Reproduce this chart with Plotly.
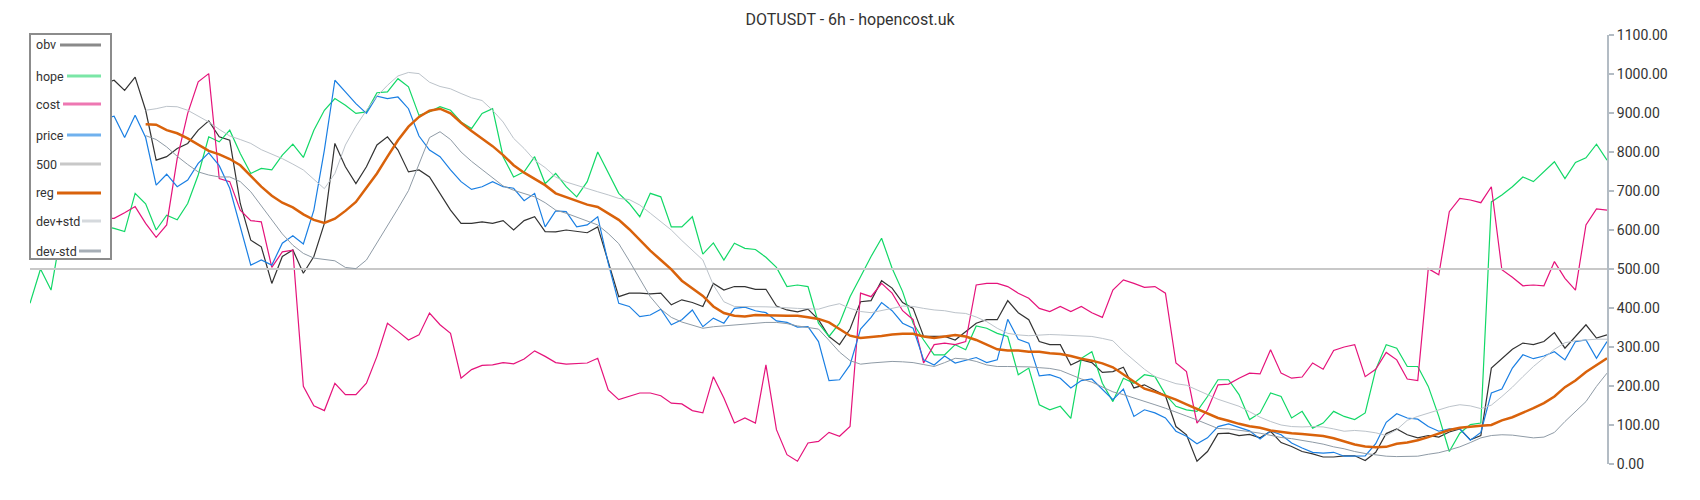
import plotly.graph_objects as go

# ---------------- data ----------------
chart_title = "DOTUSDT - 6h - hopencost.uk"
n_points = 151          # candles shown (index 0 .. 150)
band_start = 11         # first index of reg / dev bands

obv = [940, 960, 925, 950, 990, 970, 1000, 975,
       984, 958, 992, 907, 779, 788, 809, 822, 856, 880, 839, 830, 668, 574, 557, 463, 532, 549,
       489, 532, 617, 822, 762, 719, 762, 818, 839, 805, 749, 754, 736, 694, 651, 617, 617, 621, 617, 624, 600, 624, 634, 596, 595,
       600, 596, 593, 608, 519, 429, 438, 438, 436, 438, 408, 421, 414, 404, 463, 446, 455, 455, 448, 448, 405, 395, 390, 397, 370,
       327, 306, 346, 416, 419, 470, 451, 414, 399, 327, 327, 327, 318, 340, 361, 370, 370, 419, 388, 370, 314, 306, 306, 254, 267,
       260, 235, 237, 248, 195, 203, 189, 175, 96, 75, 7, 32, 78, 79, 73, 76, 67, 84, 55, 45, 32, 26, 18, 18, 21,
       21, 9, 30, 78, 90, 75, 67, 73, 69, 82, 90, 62, 73, 246, 271, 294, 310, 306, 314, 337, 297, 327, 357, 323, 331]

hope = [412, 500, 446, 600, 585, 620, 640, 610,
        604, 596, 694, 667, 600, 638, 626, 668, 741, 839, 826, 856, 796, 745, 758, 754, 792, 820,
        786, 856, 907, 937, 920, 899, 903, 952, 954, 988, 967, 894, 903, 916, 907, 877, 860, 899, 911, 788, 736, 749, 788, 719, 745,
        711, 685, 724, 800, 745, 694, 668, 634, 694, 685, 608, 608, 634, 538, 567, 523, 566, 553, 550, 530, 504, 455, 459, 455, 361,
        327, 361, 429, 480, 532, 579, 502, 442, 361, 318, 280, 280, 306, 293, 354, 348, 335, 327, 229, 246, 152, 139, 148, 117, 271,
        288, 207, 160, 220, 207, 229, 224, 178, 148, 139, 135, 173, 216, 216, 178, 114, 131, 182, 173, 118, 135, 92, 105, 135, 122,
        114, 131, 242, 306, 297, 250, 250, 199, 122, 32, 79, 101, 105, 672, 690, 711, 736, 724, 749, 775, 732, 773, 785, 820, 779]

cost = [600, 620, 640, 655, 640, 615, 625, 630,
        630, 644, 660, 617, 581, 613, 783, 899, 980, 1001, 732, 724, 651, 624, 621, 504, 544, 548,
        199, 149, 137, 207, 178, 178, 207, 276, 361, 340, 318, 331, 387, 357, 335, 220, 242, 253, 254, 260, 257, 269, 290, 276, 260,
        256, 257, 259, 271, 190, 165, 173, 182, 182, 175, 156, 154, 137, 131, 224, 169, 105, 118, 105, 254, 88, 24, 7, 54, 58,
        81, 71, 96, 438, 429, 463, 438, 393, 370, 259, 306, 310, 306, 314, 459, 463, 463, 455, 438, 425, 399, 391, 404, 391, 404,
        388, 376, 446, 472, 463, 453, 455, 438, 259, 237, 105, 139, 203, 205, 220, 233, 231, 293, 233, 220, 223, 259, 243, 291, 300,
        306, 224, 243, 286, 267, 218, 214, 501, 485, 647, 681, 677, 670, 711, 498, 479, 457, 459, 457, 519, 476, 446, 613, 654, 651]

price = [860, 880, 850, 870, 900, 880, 860, 885,
         892, 837, 894, 837, 715, 743, 711, 728, 771, 798, 765, 707, 608, 510, 523, 510, 566, 585,
         564, 651, 805, 984, 954, 924, 899, 943, 937, 941, 911, 841, 805, 788, 754, 724, 704, 711, 724, 711, 707, 675, 694, 608, 649,
         647, 608, 613, 634, 515, 412, 404, 378, 382, 397, 357, 370, 395, 352, 374, 361, 399, 402, 393, 388, 367, 363, 351, 352, 314,
         214, 216, 254, 346, 376, 414, 393, 361, 348, 267, 254, 277, 259, 267, 273, 260, 267, 371, 320, 310, 226, 229, 220, 195, 214,
         218, 192, 165, 192, 122, 139, 131, 118, 84, 71, 52, 67, 96, 103, 94, 85, 64, 85, 75, 54, 41, 30, 28, 30, 20,
         20, 21, 52, 107, 129, 118, 115, 96, 84, 90, 90, 61, 81, 182, 192, 246, 280, 270, 277, 288, 267, 314, 318, 271, 314]

reg = [871, 870, 856, 848, 835, 818, 803, 794, 782, 766, 738, 711, 688, 670, 658,
       640, 626, 618, 629, 649, 672, 708, 745, 788, 830, 865, 890, 906, 911, 899, 875, 854, 835, 815, 792, 766, 747, 731, 715, 694,
       684, 675, 665, 659, 643, 626, 602, 574, 547, 523, 499, 470, 451, 431, 404, 387, 380, 378, 382, 382, 381, 380, 380, 376, 372,
       363, 346, 329, 323, 325, 328, 332, 334, 334, 327, 323, 327, 331, 327, 318, 306, 294, 291, 291, 288, 288, 284, 282, 277, 270,
       265, 258, 248, 229, 212, 193, 185, 176, 165, 153, 141, 128, 118, 111, 103, 97, 93, 86, 82, 79, 77, 75, 72, 66, 58,
       50, 45, 43, 44, 52, 55, 61, 69, 79, 87, 93, 96, 98, 100, 112, 120, 131, 143, 156, 173, 197, 214, 236, 254, 271]

dev_plus_std = [907, 911, 917, 916, 907, 893, 877, 858, 841, 832, 822, 806, 795, 783, 769,
                754, 730, 706, 745, 818, 866, 907, 943, 971, 995, 1004, 1001, 979, 968, 962, 950, 939, 932, 907, 877, 835, 809, 779, 760, 736,
                723, 714, 707, 698, 690, 681, 678, 664, 643, 621, 600, 573, 549, 523, 459, 416, 404, 404, 404, 403, 402, 400, 399, 398, 397,
                405, 411, 399, 391, 388, 393, 399, 405, 404, 399, 395, 393, 388, 386, 377, 365, 348, 335, 331, 329, 330, 332, 331, 330, 329,
                327, 322, 316, 289, 265, 243, 224, 214, 206, 202, 189, 178, 166, 156, 148, 134, 120, 109, 100, 96, 95, 96, 95, 90, 84,
                86, 84, 80, 73, 88, 112, 122, 131, 139, 147, 152, 149, 142, 151, 173, 197, 224, 250, 272, 294, 311, 316, 318, 320, 320]

dev_minus_std = [842, 832, 813, 789, 768, 749, 741, 736, 736, 724, 698, 661, 625, 590, 561,
                 540, 528, 525, 521, 504, 501, 523, 566, 610, 655, 701, 771, 837, 852, 832, 800, 776, 755, 734, 713, 702, 694, 685, 670, 651,
                 643, 633, 621, 613, 591, 565, 521, 474, 429, 397, 376, 364, 355, 348, 352, 354, 357, 358, 361, 363, 363, 360, 354, 350, 346,
                 317, 287, 265, 256, 259, 261, 263, 262, 260, 255, 250, 260, 271, 269, 263, 254, 250, 250, 250, 249, 247, 245, 240, 228, 218,
                 210, 198, 185, 178, 170, 161, 152, 143, 134, 123, 113, 102, 91, 90, 87, 83, 79, 74, 68, 65, 61, 56, 51, 44, 39,
                 32, 27, 24, 20, 19, 19, 20, 25, 29, 36, 44, 55, 67, 73, 75, 74, 71, 67, 69, 81, 109, 135, 160, 199, 233]

level_500 = 500
y_ticks = [0, 100, 200, 300, 400, 500, 600, 700, 800, 900, 1000, 1100]

# ---------------- layout constants ----------------
W, H = 1700, 500
ML, MR, MT, MB = 30, 93, 35, 36
PW, PH = W - ML - MR, H - MT - MB

def pxx(px):
    return (px - ML) / PW

def pxy(py):
    return (H - MB - py) / PH

x_all = list(range(n_points))
x_band = list(range(band_start, n_points))

series = [
    # name, x, y, color, width
    ("obv", x_all, obv, "#333333", 1.2),
    ("hope", x_all, hope, "#12d867", 1.2),
    ("cost", x_all, cost, "#e5137b", 1.2),
    ("price", x_all, price, "#1a7fe3", 1.2),
    ("500", [x_all[0], x_all[-1]], [level_500, level_500], "#c8c8c8", 2),
    ("reg", x_band, reg, "#d9620b", 2.5),
    ("dev+std", x_band, dev_plus_std, "#bcc3ca", 1),
    ("dev-std", x_band, dev_minus_std, "#8f9ba6", 1),
]

fig = go.Figure()
for name, xs, ys, color, width in series:
    fig.add_trace(go.Scatter(x=xs, y=ys, mode="lines", name=name,
                             line=dict(color=color, width=width), showlegend=False,
                             hoverinfo="skip"))

# ---------------- hand-drawn legend (text left, swatch right) ----------------
legend_items = [
    ("obv", 45, 60, "#8a8a8a"),
    ("hope", 76, 67, "#7ae6a6"),
    ("cost", 104, 63, "#ee77b2"),
    ("price", 135, 67, "#70b1ee"),
    ("500", 164, 60, "#c8c8c8"),
    ("reg", 193, 57, "#d9620b"),
    ("dev+std", 221, 82, "#d5d9dd"),
    ("dev-std", 251, 79, "#a6aeb6"),
]
shapes = [dict(type="rect", xref="paper", yref="paper",
               x0=pxx(30), x1=pxx(111), y0=pxy(259), y1=pxy(34),
               line=dict(color="#8c8c8c", width=2), fillcolor="white", layer="above")]
annotations = []
for label, yc, xs, col in legend_items:
    shapes.append(dict(type="line", xref="paper", yref="paper",
                       x0=pxx(xs), x1=pxx(101), y0=pxy(yc), y1=pxy(yc),
                       line=dict(color=col, width=3), layer="above"))
    annotations.append(dict(text=label, xref="paper", yref="paper",
                            x=pxx(34), y=pxy(yc), xanchor="left", yanchor="middle",
                            showarrow=False, font=dict(size=12.5, color="#333333")))

fig.update_layout(
    width=W, height=H,
    margin=dict(l=ML, r=MR, t=MT, b=MB),
    paper_bgcolor="white", plot_bgcolor="white",
    font=dict(family="Roboto, Arial, sans-serif", color="#333333"),
    title=dict(text=chart_title, x=0.5, xanchor="center", y=1 - 19 / H, yanchor="middle",
               font=dict(size=16, color="#333333")),
    xaxis=dict(visible=False, range=[x_all[0], x_all[-1]]),
    yaxis=dict(side="right", range=[y_ticks[0], y_ticks[-1]], tickvals=y_ticks,
               tickformat=".2f", showgrid=False, zeroline=False,
               showline=True, linecolor="#b3bcc4", linewidth=2,
               ticks="outside", ticklen=5, tickwidth=2, tickcolor="#b3bcc4",
               tickfont=dict(size=14, color="#333333")),
    shapes=shapes, annotations=annotations,
    showlegend=False,
)

fig.write_html("out.html", config={"displayModeBar": False},
               post_script="document.body.style.margin='0';")
